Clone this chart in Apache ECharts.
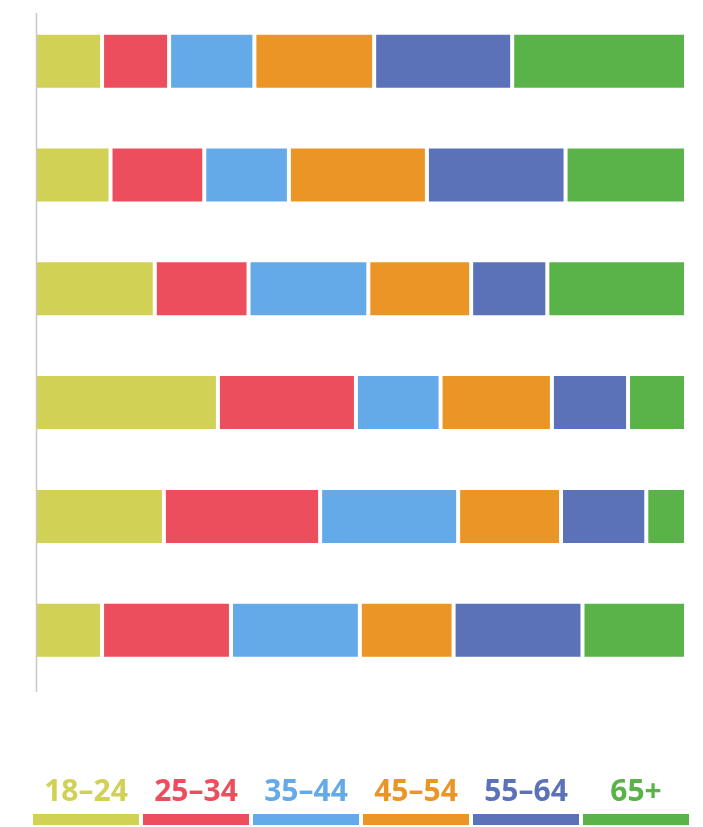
<!DOCTYPE html>
<html>
<head>
<meta charset="utf-8">
<script src="https://cdn.jsdelivr.net/npm/echarts@6/dist/echarts.min.js"></script>
<style>html,body{margin:0;padding:0;background:#fff}#c{width:703px;height:827px}</style>
</head>
<body>
<div id="c"></div>
<script>
const categories = ['Group 1', 'Group 2', 'Group 3', 'Group 4', 'Group 5', 'Group 6'];
const seriesNames = ['18–24', '25–34', '35–44', '45–54', '55–64', '65+'];
const colors = ['#d0d155', '#ec4e5e', '#64aae9', '#ea9526', '#5b72b8', '#5ab348'];
const age18_24 = [10.3, 11.6, 18.4, 28.1, 19.8, 10.3];
const age25_34 = [10.3, 14.4, 14.4, 21.2, 24.0, 19.8];
const age35_44 = [13.1, 13.0, 18.4, 13.0, 21.2, 19.8];
const age45_54 = [18.4, 21.2, 15.8, 17.1, 15.8, 14.4];
const age55_64 = [21.2, 21.3, 11.7, 11.7, 13.1, 19.8];
const age65plus = [26.7, 18.5, 21.3, 8.9, 6.1, 15.9];
const seriesData = [age18_24, age25_34, age35_44, age45_54, age55_64, age65plus];

const chart = echarts.init(document.getElementById('c'), null, {renderer: 'canvas'});

const graphics = [];
seriesNames.forEach((name, i) => {
  const x0 = 33 + i * 110;
  graphics.push({
    type: 'text',
    position: [x0 + 53, 777],
    style: {
      text: name, fill: colors[i], x: 0, y: 0,
      align: 'center', verticalAlign: 'top',
      font: 'bold 30px "Open Sans", sans-serif'
    }
  });
  graphics.push({
    type: 'rect',
    shape: {x: x0, y: 814, width: 106, height: 11},
    style: {fill: colors[i]}
  });
});

graphics.push({
  type: 'line',
  shape: {x1: 36.5, y1: 13, x2: 36.5, y2: 692},
  style: {stroke: '#c8c8c8', lineWidth: 1.5},
  z: 100
});

const option = {
  animation: false,
  grid: {left: 35, right: 17, top: 4.3, height: 682.8, containLabel: false},
  xAxis: {
    type: 'value', min: 0, max: 100,
    show: false
  },
  yAxis: {
    type: 'category', data: categories, inverse: true,
    axisLine: {show: false}, axisTick: {show: false}, axisLabel: {show: false},
    splitLine: {show: false}
  },
  series: seriesNames.map((name, i) => ({
    name: name,
    type: 'bar',
    stack: 'total',
    data: seriesData[i],
    barWidth: 57,
    itemStyle: {color: colors[i], borderColor: '#ffffff', borderWidth: 2}
  })),
  graphic: graphics
};
chart.setOption(option);
</script>
</body>
</html>
